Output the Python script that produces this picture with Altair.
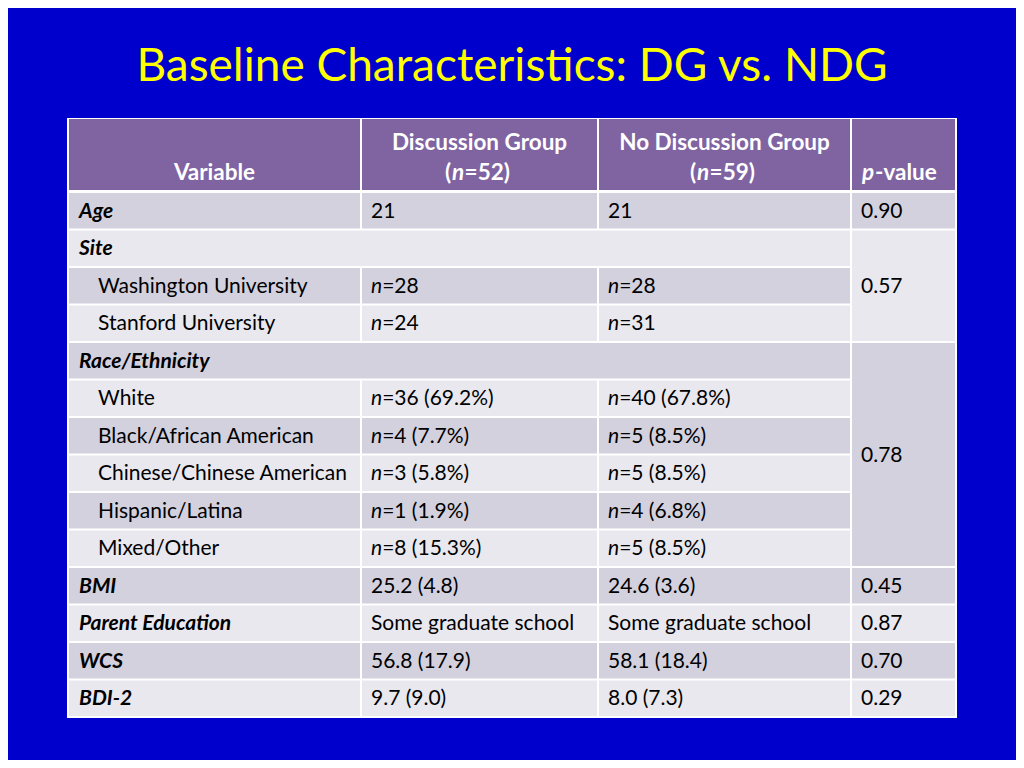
import altair as alt
import pandas as pd

# ---------------- data ----------------
TITLE = "Baseline Characteristics: DG vs. NDG"
HEAD_VARIABLE = "Variable"
HEAD_DG = ["Discussion Group", "52"]
HEAD_NDG = ["No Discussion Group", "59"]

labels = ["Age", "Site", "Washington University", "Stanford University",
          "Race/Ethnicity", "White", "Black/African American",
          "Chinese/Chinese American", "Hispanic/Latina", "Mixed/Other",
          "BMI", "Parent Education", "WCS", "BDI-2"]
is_group = [1, 1, 0, 0, 1, 0, 0, 0, 0, 0, 1, 1, 1, 1]
spans_values = [0, 1, 0, 0, 1, 0, 0, 0, 0, 0, 0, 0, 0, 0]
dg = ["21", "", "n=28", "n=24", "", "n=36 (69.2%)", "n=4 (7.7%)", "n=3 (5.8%)",
      "n=1 (1.9%)", "n=8 (15.3%)", "25.2 (4.8)", "Some graduate school",
      "56.8 (17.9)", "9.7 (9.0)"]
ndg = ["21", "", "n=28", "n=31", "", "n=40 (67.8%)", "n=5 (8.5%)", "n=5 (8.5%)",
       "n=4 (6.8%)", "n=5 (8.5%)", "24.6 (3.6)", "Some graduate school",
       "58.1 (18.4)", "8.0 (7.3)"]
# p-values: (first row, last row, value)
pvals = [(0, 0, "0.90"), (1, 3, "0.57"), (4, 9, "0.78"), (10, 10, "0.45"),
         (11, 11, "0.87"), (12, 12, "0.70"), (13, 13, "0.29")]

# ---------------- style / layout ----------------
BLUE = "#0000CC"
YELLOW = "#FFFF00"
PURPLE = "#8064A2"
DARK = "#D3D1DE"
LIGHT = "#E9E8EF"
FONT = "Lato"
BODY_SIZE = 21
HEAD_SIZE = 22.5
TITLE_SIZE = 46

W, H = 1008, 752
COL = [68, 361, 598, 851, 956]
HEAD_TOP, HEAD_BOT = 119, 190
BODY_TOP, ROW_H = 192, 37.5
PAD, INDENT = 10, 30
N_W = 0.53 * BODY_SIZE  # advance of italic "n"

def row_top(i):
    return BODY_TOP + i * ROW_H

def row_base(i0, i1=None):
    i1 = i0 if i1 is None else i1
    return (row_top(i0) + row_top(i1 + 1)) / 2 + 7

# ---------------- cells ----------------
cells = [dict(x=COL[0] - 1, x2=COL[-1] + 1, y=HEAD_TOP - 1, y2=row_top(14) + 1, fill="#FFFFFF")]
for c in range(4):
    cells.append(dict(x=COL[c] + 1, x2=COL[c + 1] - 1, y=HEAD_TOP, y2=HEAD_BOT, fill=PURPLE))
for i in range(14):
    fill = DARK if i % 2 == 0 else LIGHT
    y, y2 = row_top(i) + 1, row_top(i + 1) - 1
    if spans_values[i]:
        cells.append(dict(x=COL[0] + 1, x2=COL[3] - 1, y=y, y2=y2, fill=fill))
    else:
        for c in range(3):
            cells.append(dict(x=COL[c] + 1, x2=COL[c + 1] - 1, y=y, y2=y2, fill=fill))
for (a, b, v) in pvals:
    fill = DARK if a % 2 == 0 else LIGHT
    cells.append(dict(x=COL[3] + 1, x2=COL[4] - 1, y=row_top(a) + 1, y2=row_top(b + 1) - 1, fill=fill))
cells_df = pd.DataFrame(cells)

xs = alt.Scale(domain=[8, 8 + W], range=[0, W])
ys = alt.Scale(domain=[8, 8 + H], range=[0, H])

def X(f="x"):
    return alt.X(f"{f}:Q", scale=xs, axis=None)

def Y(f="y"):
    return alt.Y(f"{f}:Q", scale=ys, axis=None)

rects = alt.Chart(cells_df).mark_rect().encode(
    x=X(), x2="x2:Q", y=Y(), y2="y2:Q", fill=alt.Fill("fill:N", scale=None))

# ---------------- texts ----------------
body_reg, body_it, body_bi = [], [], []
for i, lab in enumerate(labels):
    yb = row_base(i)
    if is_group[i]:
        body_bi.append(dict(x=COL[0] + PAD + 1, y=yb, t=lab))
    else:
        body_reg.append(dict(x=COL[0] + INDENT, y=yb, t=lab))
    for c, vals in ((1, dg), (2, ndg)):
        v = vals[i]
        if not v:
            continue
        x0 = COL[c] + PAD
        if v.startswith("n="):
            body_it.append(dict(x=x0, y=yb, t="n"))
            body_reg.append(dict(x=x0 + N_W, y=yb, t=v[1:]))
        else:
            body_reg.append(dict(x=x0, y=yb, t=v))
for (a, b, v) in pvals:
    body_reg.append(dict(x=COL[3] + PAD, y=row_base(a, b), t=v))

L1, L2 = 149.5, 179.5
head_b, head_bi = [], []
head_b_center = [dict(x=(COL[0] + COL[1]) / 2, y=L2, t=HEAD_VARIABLE)]
for c, (name, n) in ((1, HEAD_DG), (2, HEAD_NDG)):
    cx = (COL[c] + COL[c + 1]) / 2
    left = cx - 34.5
    head_b.append(dict(x=left, y=L2, t="("))
    head_bi.append(dict(x=left + 0.31 * HEAD_SIZE, y=L2, t="n"))
    head_b.append(dict(x=left + 0.31 * HEAD_SIZE + 0.56 * HEAD_SIZE, y=L2, t="=" + n + ")"))
    head_b_center.append(dict(x=cx, y=L1, t=name))
head_bi.append(dict(x=COL[3] + PAD + 1, y=L2, t="p"))
head_b.append(dict(x=COL[3] + PAD + 1 + 0.58 * HEAD_SIZE, y=L2, t="-value"))

def text_layer(rows, color, size, align="left", style="normal", weight="normal"):
    return alt.Chart(pd.DataFrame(rows)).mark_text(
        align=align, baseline="alphabetic", font=FONT, fontSize=size,
        fontStyle=style, fontWeight=weight, color=color,
    ).encode(x=X(), y=Y(), text="t:N")

layers = [
    rects,
    text_layer(body_reg, "#000000", BODY_SIZE),
    text_layer(body_it, "#000000", BODY_SIZE, style="italic"),
    text_layer(body_bi, "#000000", BODY_SIZE, style="italic", weight="bold"),
    text_layer(head_b_center, "#FFFFFF", HEAD_SIZE, align="center", weight="bold"),
    text_layer(head_b, "#FFFFFF", HEAD_SIZE, weight="bold"),
    text_layer(head_bi, "#FFFFFF", HEAD_SIZE, style="italic", weight="bold"),
    text_layer([dict(x=512, y=81, t=TITLE)], YELLOW, TITLE_SIZE, align="center"),
]

chart = alt.layer(*layers).properties(
    width=W, height=H, padding=0, autosize=alt.AutoSizeParams(type="none"),
    background=BLUE,
).configure_view(stroke=None)

chart.save("out.html", embed_options={"renderer": "svg", "actions": False})
